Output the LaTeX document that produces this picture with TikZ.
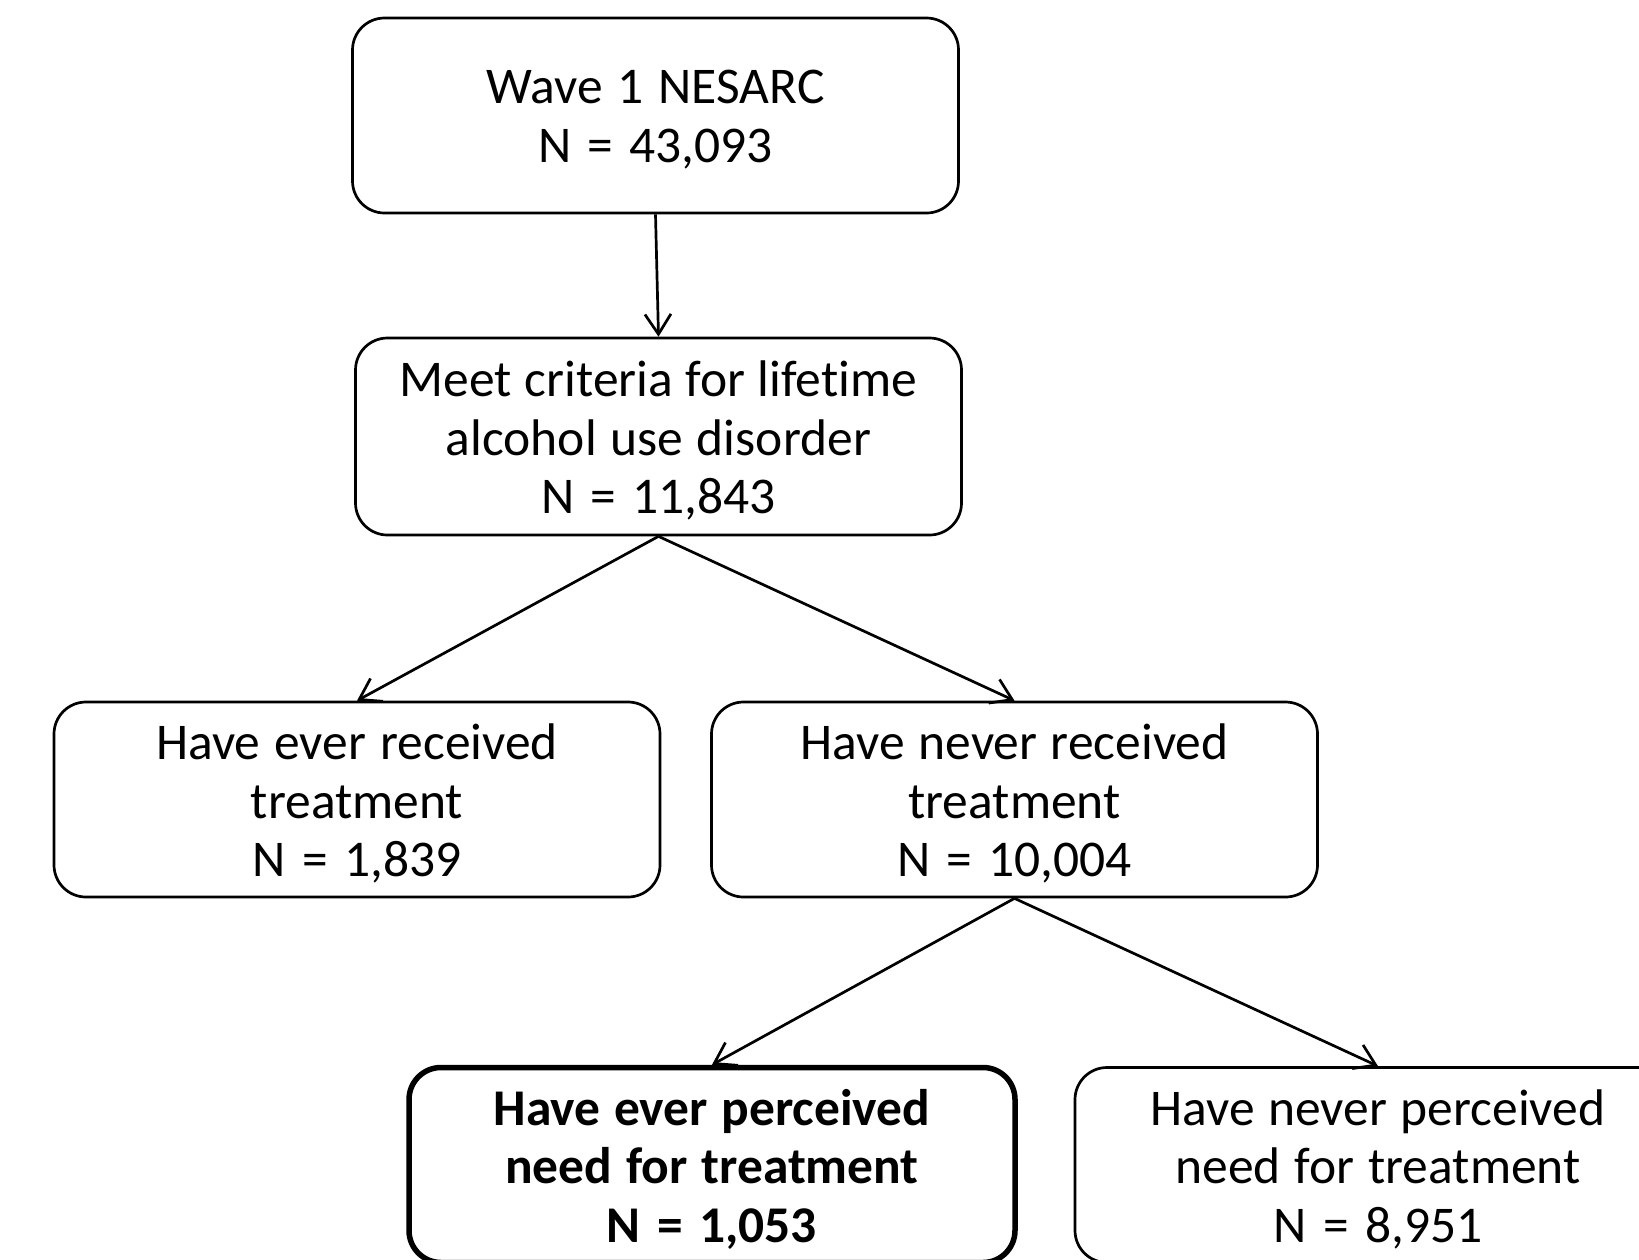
\documentclass[tikz,border=0pt]{standalone}
\usepackage{fontspec}
\setmainfont{Carlito}[Ligatures=NoCommon]
\usetikzlibrary{arrows.meta}
\newcommand\tightsp{\spaceskip=0.226em plus 0.05em minus 0.02em\relax\xspaceskip=0.226em\relax}
\tikzset{
  flowbox/.style={draw=black, line width=2.7pt, rounded corners=32pt, fill=white,
    minimum width=606pt, minimum height=195pt, inner sep=0pt},
  boldbox/.style={flowbox, line width=5.5pt},
  boxtext/.style={inner sep=0pt, text width=590pt, align=center, yshift=-4pt,
    font=\fontsize{51.5}{58.5}\selectfont},
  boldtext/.style={boxtext, font=\fontsize{51.5}{58.5}\selectfont\bfseries},
  conn/.style={draw=black, line width=2.7pt, -{Straight Barb[length=20pt,width=26pt,line width=2.7pt]}}
}
\begin{document}
\begin{tikzpicture}[x=1pt,y=-1pt]
\useasboundingbox (0,0) rectangle (1639,1259);
\clip (0,0) rectangle (1639,1259);
\fill[white] (0,0) rectangle (1639,1259);
\node[flowbox] (b1) at (655.5,115.5) {};
\node[boxtext] (t1) at (b1.center) {\tightsp Wave 1 NESARC\\N = 43,093};
\node[flowbox, minimum height=197pt] (b2) at (658.5,436.5) {};
\node[boxtext] (t2) at (b2.center) {\tightsp Meet criteria for lifetime\\alcohol use disorder\\N = 11,843};
\node[flowbox] (b3) at (357,799.5) {};
\node[boxtext] (t3) at (b3.center) {\tightsp Have ever received\\treatment\\N = 1,839};
\node[flowbox] (b4) at (1014.5,799.5) {};
\node[boxtext] (t4) at (b4.center) {\tightsp Have never received\\treatment\\N = 10,004};
\node[boldbox] (b5) at (712,1165) {};
\node[boldtext] (t5) at (b5.center) {\tightsp Have ever perceived\\need for treatment\\N = 1,053};
\node[flowbox] (b6) at (1378,1165) {};
\node[boxtext] (t6) at (b6.center) {\tightsp Have never perceived\\need for treatment\\N = 8,951};
\draw[conn] (b1.south) -- (b2.north);
\draw[conn] (b2.south) -- (b3.north);
\draw[conn] (b2.south) -- (b4.north);
\draw[conn] (b4.south) -- (b5.north);
\draw[conn] (b4.south) -- (b6.north);
\end{tikzpicture}
\end{document}
